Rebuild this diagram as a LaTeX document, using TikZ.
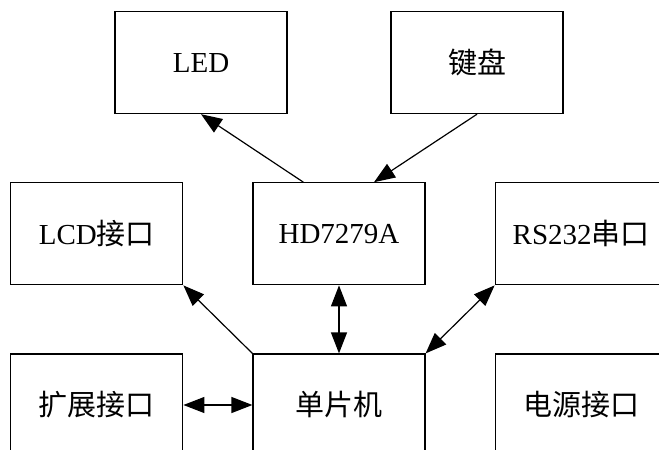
\documentclass[tikz,border=0pt]{standalone}
\usepackage{fontspec}
\setmainfont{Liberation Serif}
\newfontfamily\cjk{Noto Sans CJK SC}
\usetikzlibrary{calc,positioning,arrows.meta}
\tikzset{
    >={Triangle[length=21pt,width=16pt]},
    block/.style={
        rectangle,
        draw=black, line width=1.2pt,
        minimum width=172pt,
        minimum height=102pt,
        inner sep=0pt,
        font=\fontsize{29}{33}\selectfont,
        text centered
    },
    link/.style={draw, line width=1.2pt}
}

\begin{document}
\begin{tikzpicture}[x=1pt,y=1pt,node distance=68pt and 69pt]
    \useasboundingbox (0,0) rectangle (659,-450);
    \clip (0,0) rectangle (659,-450);

    \node[block] (mcu) at (339,-405) {\cjk 单片机};
    \node[block, above=of mcu] (hd) {HD7279A};
    \node[block, left=of hd] (lcd) {LCD{\cjk 接口}};
    \node[block, right=of hd] (rs) {RS232{\cjk 串口}};
    \node[block, left=of mcu] (ext) {\cjk 扩展接口};
    \node[block, right=of mcu] (power) {\cjk 电源接口};
    \node[block, above=of hd, xshift=-138pt] (led) {LED};
    \node[block, above=of hd, xshift=138pt] (key) {\cjk 键盘};

    \draw[link,->] ($(hd.north west)+(51,0)$) -- (led.south);
    \draw[link,->] (key.south) -- ($(hd.north)+(35,0)$);
    \draw[link,->] (mcu.north west) -- (lcd.south east);
    \draw[link,<->] (hd.south) -- (mcu.north);
    \draw[link,<->] (mcu.north east) -- (rs.south west);
    \draw[link,<->] (ext.east) -- (mcu.west);
\end{tikzpicture}
\end{document}
